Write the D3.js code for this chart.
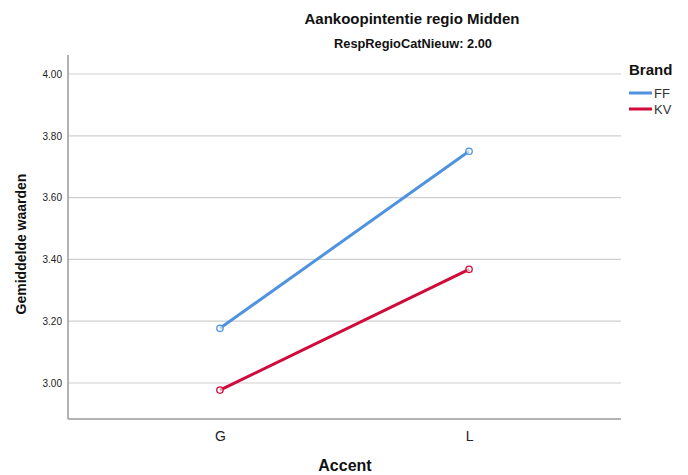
<!DOCTYPE html>
<html>
<head>
<meta charset="utf-8">
<script src="https://cdn.jsdelivr.net/npm/d3@7"></script>
<style>
  body { margin: 0; background: #fff; }
  text { font-family: Arial, "Liberation Sans", sans-serif; }
</style>
</head>
<body>
<div id="chart"></div>
<script>
// data
var categories = ["G", "L"];
var seriesNames = ["FF", "KV"];
var ffValues = [3.177, 3.750];
var kvValues = [2.977, 3.368];
var yTicks = [3.00, 3.20, 3.40, 3.60, 3.80, 4.00];
var colors = ["#4f93e0", "#d00a3b"];

var w = 688, h = 475;
var plotLeft = 68, plotRight = 621, plotTop = 55, plotBottom = 419;

var svg = d3.select("#chart").append("svg")
  .attr("width", w)
  .attr("height", h);

var x = d3.scalePoint()
  .domain(categories)
  .range([plotLeft, plotRight])
  .padding(0.61);

var y = d3.scaleLinear()
  .domain([2.8835, 4.0615])
  .range([plotBottom, plotTop]);

// gridlines
svg.append("g").selectAll("line")
  .data(yTicks)
  .enter().append("line")
  .attr("x1", plotLeft).attr("x2", plotRight)
  .attr("y1", function(d) { return y(d); })
  .attr("y2", function(d) { return y(d); })
  .attr("stroke", "#cfcfcf")
  .attr("stroke-width", 1.2);

// y axis
var yAxis = svg.append("g")
  .attr("transform", "translate(" + plotLeft + ",0)")
  .call(d3.axisLeft(y).tickValues(yTicks).tickFormat(d3.format(".2f")).tickSize(0).tickPadding(6));
yAxis.select(".domain").attr("stroke", "#9a9a9a").attr("stroke-width", 1.5)
  .attr("d", "M0," + plotTop + "V" + plotBottom);
yAxis.selectAll("text").attr("font-size", 10).attr("fill", "#222")
  .attr("font-family", "Arial, 'Liberation Sans', sans-serif");

// x axis
var xAxis = svg.append("g")
  .attr("transform", "translate(0," + plotBottom + ")")
  .call(d3.axisBottom(x).tickSize(0).tickPadding(12));
xAxis.select(".domain").attr("stroke", "#9a9a9a").attr("stroke-width", 1.5)
  .attr("d", "M" + plotLeft + ",0H" + plotRight);
xAxis.selectAll("text").attr("font-size", 14).attr("fill", "#222")
  .attr("font-family", "Arial, 'Liberation Sans', sans-serif");

// lines
var series = [ffValues, kvValues];
var line = d3.line()
  .x(function(d, i) { return x(categories[i]); })
  .y(function(d) { return y(d); });

series.forEach(function(vals, s) {
  svg.append("path")
    .datum(vals)
    .attr("d", line)
    .attr("fill", "none")
    .attr("stroke", colors[s])
    .attr("stroke-width", 3);
  svg.append("g").selectAll("circle")
    .data(vals)
    .enter().append("circle")
    .attr("cx", function(d, i) { return x(categories[i]); })
    .attr("cy", function(d) { return y(d); })
    .attr("r", 3.2)
    .attr("fill", "#fff")
    .attr("fill-opacity", 0.6)
    .attr("stroke", colors[s])
    .attr("stroke-width", 1.3);
});

// titles
svg.append("text")
  .attr("x", 412).attr("y", 24)
  .attr("text-anchor", "middle")
  .attr("font-size", 15)
  .attr("font-weight", "bold")
  .attr("fill", "#111")
  .text("Aankoopintentie regio Midden");
svg.append("text")
  .attr("x", 413).attr("y", 48)
  .attr("text-anchor", "middle")
  .attr("font-size", 12.8)
  .attr("font-weight", "bold")
  .attr("fill", "#111")
  .text("RespRegioCatNieuw: 2.00");

svg.append("text")
  .attr("transform", "translate(26,244) rotate(-90)")
  .attr("text-anchor", "middle")
  .attr("font-size", 14)
  .attr("font-weight", "bold")
  .attr("fill", "#111")
  .text("Gemiddelde waarden");

svg.append("text")
  .attr("x", 345).attr("y", 471)
  .attr("text-anchor", "middle")
  .attr("font-size", 16)
  .attr("font-weight", "bold")
  .attr("fill", "#111")
  .text("Accent");

// legend
var legend = svg.append("g").attr("transform", "translate(629,0)");
legend.append("text")
  .attr("x", 0).attr("y", 75)
  .attr("font-size", 15)
  .attr("font-weight", "bold")
  .attr("fill", "#111")
  .text("Brand");
seriesNames.forEach(function(name, i) {
  var yy = 93 + i * 16;
  legend.append("line")
    .attr("x1", 0).attr("x2", 23)
    .attr("y1", yy).attr("y2", yy)
    .attr("stroke", colors[i])
    .attr("stroke-width", 3);
  legend.append("text")
    .attr("x", 25).attr("y", yy + 5)
    .attr("font-size", 13)
    .attr("fill", "#333")
    .text(name);
});
</script>
</body>
</html>
